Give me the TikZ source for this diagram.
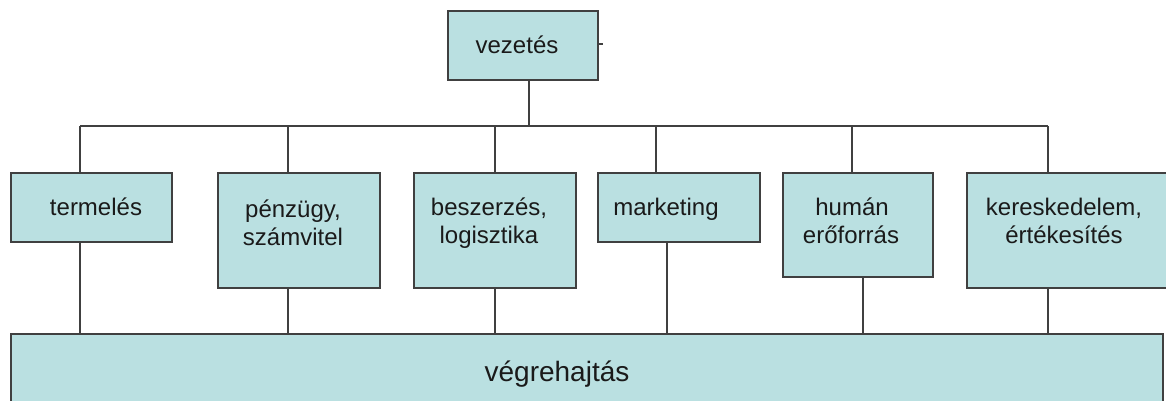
\documentclass[tikz,border=0pt]{standalone}
\usepackage{fontspec}
\setmainfont{Liberation Sans}
\definecolor{boxfill}{RGB}{186,224,225}
\definecolor{boxline}{RGB}{64,64,64}
\definecolor{txt}{RGB}{26,26,26}
\begin{document}
\begin{tikzpicture}[x=1pt,y=-1pt,
  box/.style={draw=boxline,fill=boxfill,line width=1.6pt,inner sep=0pt,outer sep=0pt,anchor=north west},
  conn/.style={draw=boxline,line width=1.6pt},
  lbl/.style={text=txt,inner sep=0pt,anchor=base,font=\fontsize{24}{28}\selectfont,align=center},
  biglbl/.style={text=txt,inner sep=0pt,anchor=base,font=\fontsize{28}{32}\selectfont}]
\useasboundingbox (0,0) rectangle (1166,401);
\clip (0,0) rectangle (1166,401);
\fill[white] (0,0) rectangle (1166,401);
% boxes
\node[box,minimum width=150pt,minimum height=69pt] (vez) at (448,11) {};
\node[box,minimum width=161pt,minimum height=69pt] (term) at (11,173) {};
\node[box,minimum width=162pt,minimum height=115pt] (penz) at (218,173) {};
\node[box,minimum width=162pt,minimum height=115pt] (besz) at (414,173) {};
\node[box,minimum width=162pt,minimum height=69pt] (mark) at (598,173) {};
\node[box,minimum width=150pt,minimum height=104pt] (hum) at (783,173) {};
\node[box,minimum width=230pt,minimum height=115pt] (ker) at (967,173) {};
\node[box,minimum width=1152pt,minimum height=120pt] (vegre) at (11,334) {};
% labels
\node[lbl] (tvez) at (517,54) {vezetés};
\node[lbl] (tterm) at (96,215) {termelés};
\node[lbl] (tpenz1) at (293,217) {pénzügy,};
\node[lbl] (tpenz2) at (293,245) {számvitel};
\node[lbl] (tbesz1) at (489,215) {beszerzés,};
\node[lbl] (tbesz2) at (489,243) {logisztika};
\node[lbl] (tmark) at (666,215) {marketing};
\node[lbl] (thum1) at (852,215) {humán};
\node[lbl] (thum2) at (851,243) {erőforrás};
\node[lbl] (tker1) at (1064,215) {kereskedelem,};
\node[lbl] (tker2) at (1064,243) {értékesítés};
\node[biglbl] (tvegre) at (557,381) {végrehajtás};
% bus coordinates
\coordinate (b0) at (529,126);
\coordinate (b1) at (80,126);
\coordinate (b2) at (288,126);
\coordinate (b3) at (495,126);
\coordinate (b4) at (656,126);
\coordinate (b5) at (852,126);
\coordinate (b6) at (1048,126);
\coordinate (u1) at (80,334);
\coordinate (u2) at (288,334);
\coordinate (u3) at (495,334);
\coordinate (u4) at (667,334);
\coordinate (u5) at (863,334);
\coordinate (u6) at (1048,334);
\coordinate (tick) at (603,44);
% connectors
\draw[conn] (b1) -- (b6);
\draw[conn] (vez.south -| b0) -- (b0);
\draw[conn] (vez.east |- tick) -- (tick);
\draw[conn] (b1) -- (b1 |- term.north);
\draw[conn] (b2) -- (b2 |- penz.north);
\draw[conn] (b3) -- (b3 |- besz.north);
\draw[conn] (b4) -- (b4 |- mark.north);
\draw[conn] (b5) -- (b5 |- hum.north);
\draw[conn] (b6) -- (b6 |- ker.north);
\draw[conn] (term.south -| u1) -- (u1);
\draw[conn] (penz.south -| u2) -- (u2);
\draw[conn] (besz.south -| u3) -- (u3);
\draw[conn] (mark.south -| u4) -- (u4);
\draw[conn] (hum.south -| u5) -- (u5);
\draw[conn] (ker.south -| u6) -- (u6);
\end{tikzpicture}
\end{document}
